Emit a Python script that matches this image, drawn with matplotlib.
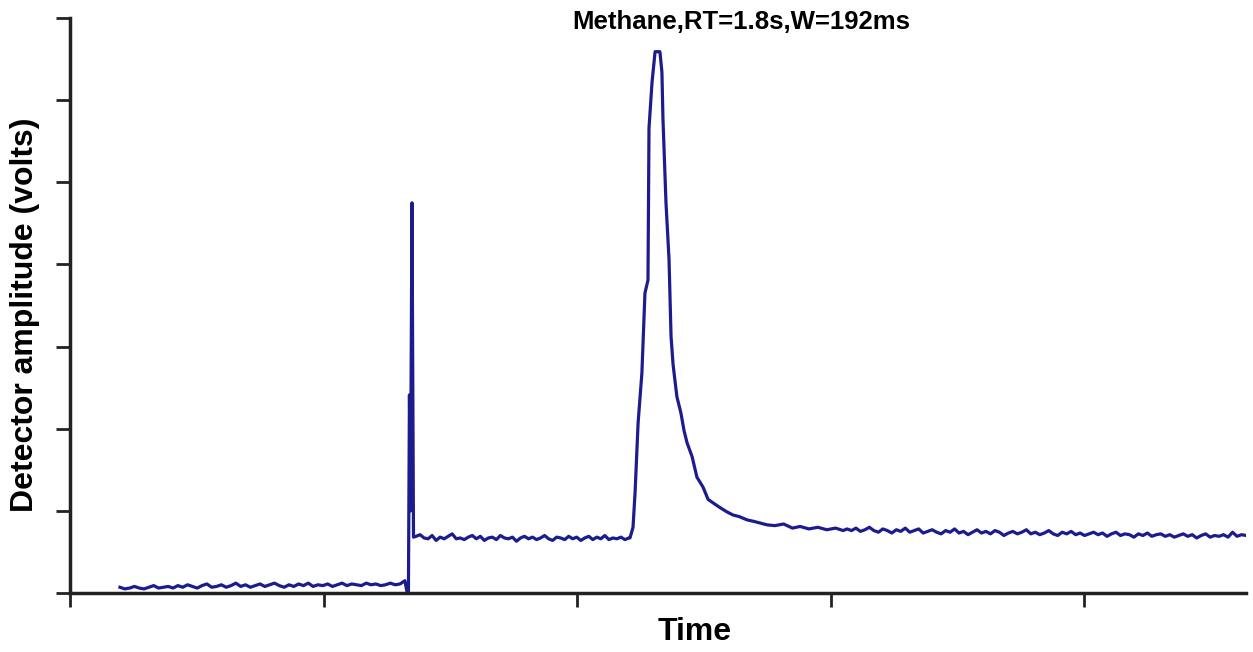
import numpy as np
import matplotlib
matplotlib.use("Agg")
import matplotlib.pyplot as plt

# chromatogram (time in tick units, amplitude in tick units)
base_start, base_end = 0.197, 1.321
base_amp = [0.07, 0.05, 0.06, 0.08, 0.06, 0.05, 0.07, 0.09, 0.06, 0.07,
            0.08, 0.06, 0.09, 0.07, 0.10, 0.08, 0.06, 0.09, 0.11, 0.07,
            0.08, 0.10, 0.07, 0.09, 0.12, 0.08, 0.10, 0.07, 0.09, 0.11,
            0.08, 0.10, 0.12, 0.09, 0.07, 0.10, 0.08, 0.11, 0.09, 0.12,
            0.08, 0.10, 0.09, 0.11, 0.08, 0.10, 0.12, 0.09, 0.11, 0.10,
            0.09, 0.12, 0.10, 0.11, 0.09, 0.10, 0.12, 0.10, 0.11, 0.15]

spike_t = [1.329, 1.335, 1.339, 1.343, 1.349, 1.355]
spike_amp = [0.02, 0.02, 2.41, 1.00, 4.75, 0.68]

plateau_start, plateau_end = 1.365, 2.205
plateau_amp = [0.69, 0.71, 0.67, 0.66, 0.70, 0.64, 0.68, 0.66, 0.69, 0.72,
               0.66, 0.67, 0.65, 0.68, 0.70, 0.66, 0.69, 0.64, 0.67, 0.68,
               0.65, 0.70, 0.67, 0.66, 0.68, 0.63, 0.67, 0.69, 0.66, 0.68,
               0.65, 0.67, 0.70, 0.66, 0.64, 0.68, 0.67, 0.65, 0.69, 0.66,
               0.68, 0.64, 0.67, 0.69, 0.65, 0.68, 0.66, 0.70, 0.65, 0.67,
               0.66, 0.68, 0.65, 0.67]

peak_t = [2.209, 2.221, 2.229, 2.241, 2.256, 2.268, 2.280, 2.284, 2.296,
          2.308, 2.327, 2.335, 2.339, 2.351, 2.363, 2.371, 2.379, 2.394,
          2.410, 2.422, 2.434, 2.454, 2.473, 2.497, 2.517, 2.540, 2.564,
          2.590, 2.615, 2.640, 2.671, 2.700, 2.725, 2.749, 2.780, 2.815,
          2.850, 2.880, 2.915, 2.950, 2.985, 3.020, 3.050]
peak_amp = [0.67, 0.80, 1.22, 2.07, 2.68, 3.65, 3.81, 5.66, 6.22,
            6.59, 6.59, 6.34, 5.78, 4.75, 4.06, 3.12, 2.78, 2.39,
            2.19, 1.98, 1.83, 1.66, 1.41, 1.29, 1.14, 1.09, 1.04,
            0.99, 0.95, 0.93, 0.89, 0.87, 0.85, 0.83, 0.82, 0.84,
            0.79, 0.81, 0.78, 0.80, 0.77, 0.79, 0.76]

tail_start, tail_end = 3.065, 4.639
tail_amp = [0.78, 0.76, 0.79, 0.75, 0.77, 0.80, 0.76, 0.74, 0.78, 0.76,
            0.73, 0.77, 0.75, 0.79, 0.74, 0.76, 0.78, 0.73, 0.75, 0.77,
            0.74, 0.72, 0.76, 0.74, 0.78, 0.73, 0.75, 0.71, 0.74, 0.77,
            0.73, 0.75, 0.72, 0.76, 0.74, 0.70, 0.73, 0.75, 0.72, 0.74,
            0.77, 0.72, 0.74, 0.71, 0.73, 0.76, 0.72, 0.70, 0.74, 0.72,
            0.75, 0.71, 0.73, 0.70, 0.72, 0.74, 0.71, 0.73, 0.69, 0.72,
            0.74, 0.70, 0.72, 0.71, 0.68, 0.72, 0.70, 0.73, 0.69, 0.71,
            0.72, 0.69, 0.71, 0.68, 0.70, 0.72, 0.69, 0.71, 0.67, 0.70,
            0.72, 0.68, 0.70, 0.69, 0.71, 0.68, 0.74, 0.69, 0.71, 0.70]

title = "Methane,RT=1.8s,W=192ms"
x_label = "Time"
y_label = "Detector amplitude (volts)"

t = np.concatenate([np.linspace(base_start, base_end, len(base_amp)), spike_t,
                    np.linspace(plateau_start, plateau_end, len(plateau_amp)),
                    peak_t, np.linspace(tail_start, tail_end, len(tail_amp))])
amp = np.concatenate([base_amp, spike_amp, plateau_amp, peak_amp, tail_amp])

plt.rcParams["font.family"] = ["Liberation Sans", "DejaVu Sans"]

fig = plt.figure(figsize=(12.53, 6.52), dpi=100)
ax = fig.add_axes([70 / 1253, 59 / 652, 1176 / 1253, 575 / 652])

ax.plot(t, amp, color="#1c1c8e", lw=2.3)

ax.set_xlim(0, 4.639)
ax.set_ylim(0, 7)
ax.set_xticks([0, 1, 2, 3, 4])
ax.set_yticks(range(8))
ax.set_xticklabels([])
ax.set_yticklabels([])
ax.tick_params(direction="out", length=10, width=2, color="#222222")
for side in ("top", "right"):
    ax.spines[side].set_visible(False)
for side in ("left", "bottom"):
    ax.spines[side].set_linewidth(2.5)
    ax.spines[side].set_color("#222222")

fig.text(741 / 1253, 1 - 22 / 652, title, ha="center", va="center",
         fontsize=18.5, fontweight="bold")
fig.text(695 / 1253, 1 - 632 / 652, x_label, ha="center", va="center",
         fontsize=23, fontweight="bold")
fig.text(25 / 1253, 1 - 315 / 652, y_label, ha="center", va="center",
         rotation=90, fontsize=23, fontweight="bold")

fig.savefig("out.png", dpi=100)
